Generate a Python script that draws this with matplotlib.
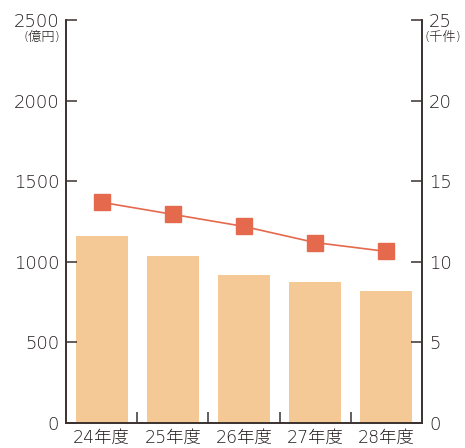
import matplotlib
matplotlib.use("Agg")
import matplotlib.pyplot as plt

plt.rcParams['font.family'] = ['DejaVu Sans', 'Noto Sans CJK JP']

years = ['24年度', '25年度', '26年度', '27年度', '28年度']
amount = [1160, 1036, 918, 875, 819]      # 億円 (bars, left axis)
count = [13.7, 12.95, 12.2, 11.2, 10.65]  # 千件 (line, right axis)

bar_color = '#F5C996'
line_color = '#E4694D'
axis_color = '#3A3230'
text_color = '#231C1C'

fig = plt.figure(figsize=(4.65, 4.48), dpi=100)
ax = fig.add_axes([0.142, 0.0558, 0.7655, 0.899])
x = list(range(len(years)))
ax.bar(x, amount, width=0.73, color=bar_color, zorder=1)
ax.set_xlim(-0.5, 4.5)
ax.set_ylim(0, 2500)
ax.set_yticks([0, 500, 1000, 1500, 2000, 2500])

ax2 = ax.twinx()
ax2.plot(x, count, color=line_color, lw=1.2, marker='s', ms=11, zorder=3)
ax2.set_ylim(0, 25)
ax2.set_yticks([0, 5, 10, 15, 20, 25])

for a in (ax, ax2):
    for s in a.spines.values():
        s.set_color(axis_color)
        s.set_linewidth(1.2)
    a.spines['top'].set_visible(False)
    a.tick_params(axis='y', direction='in', length=8, width=1.1, color=axis_color,
                  labelcolor=text_color, labelsize=13, pad=5)
    for lb in a.get_yticklabels():
        lb.set_fontweight('light')

ax.set_xticks([i + 0.5 for i in range(len(years) - 1)], minor=False)
ax.set_xticklabels([])
ax.tick_params(axis='x', direction='in', length=8, width=1.1, color=axis_color)
ax.set_xticks(x, minor=True)
ax.set_xticklabels(years, minor=True, fontweight='light')
ax.tick_params(axis='x', which='minor', length=0, labelsize=12.5, labelcolor=text_color, pad=4)

fig.text(42 / 465, 1 - 37 / 448, '(億円)', fontsize=9.5, color=text_color, ha='center', va='center',
         fontweight='light')
fig.text(443 / 465, 1 - 37 / 448, '(千件)', fontsize=9.5, color=text_color, ha='center', va='center',
         fontweight='light')

fig.savefig('out.png', dpi=100)
